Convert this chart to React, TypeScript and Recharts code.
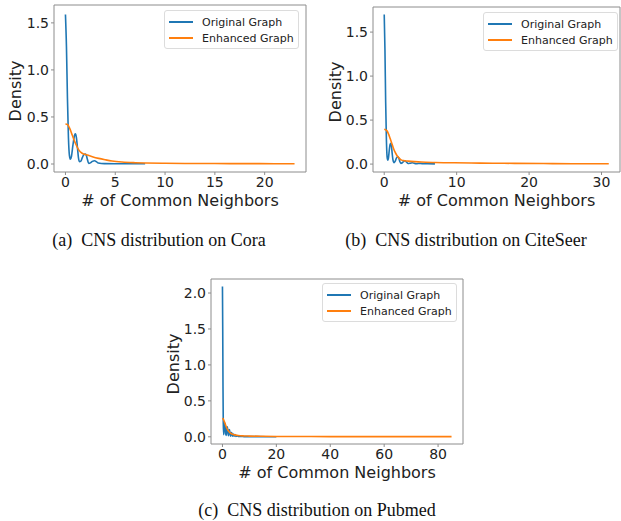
import { Line, LineChart, XAxis, YAxis } from "recharts";

// values: KDE curves of "# of common neighbors"
const coraOrigX = [0, 0.1, 0.2, 0.3, 0.4, 0.5, 0.6, 0.75, 0.9, 1.0, 1.1, 1.2, 1.3, 1.4, 1.55, 1.7, 1.85, 2.0, 2.1, 2.2, 2.33, 2.5, 2.7, 2.93, 3.1, 3.3, 3.6, 4, 5, 6, 7, 8];
const coraOrigY = [1.59, 1.25, 0.7, 0.28, 0.09, 0.05, 0.08, 0.2, 0.3, 0.32, 0.28, 0.18, 0.07, 0.025, 0.03, 0.07, 0.1, 0.106, 0.09, 0.05, 0.007, 0.012, 0.028, 0.035, 0.025, 0.01, 0.005, 0.004, 0.003, 0.003, 0.002, 0.002];
const coraEnhX = [0, 0.2, 0.33, 0.5, 0.67, 1, 1.33, 1.67, 2.17, 2.7, 3.33, 4, 4.67, 5.67, 7, 8, 10, 12, 15, 18, 21, 23];
const coraEnhY = [0.425, 0.42, 0.4, 0.36, 0.31, 0.22, 0.15, 0.114, 0.096, 0.078, 0.06, 0.045, 0.032, 0.021, 0.014, 0.011, 0.008, 0.006, 0.005, 0.004, 0.003, 0.002];

const citeOrigX = [0, 0.1, 0.2, 0.3, 0.4, 0.5, 0.6, 0.7, 0.8, 0.91, 1.0, 1.1, 1.2, 1.36, 1.5, 1.7, 1.86, 2.0, 2.15, 2.3, 2.5, 2.7, 2.86, 3.05, 3.3, 3.6, 3.9, 4.4, 5, 5.5, 6, 7];
const citeOrigY = [1.7, 1.3, 0.7, 0.28, 0.08, 0.045, 0.08, 0.16, 0.22, 0.235, 0.2, 0.12, 0.05, 0.015, 0.03, 0.07, 0.083, 0.07, 0.03, 0.008, 0.015, 0.032, 0.038, 0.025, 0.006, 0.01, 0.015, 0.004, 0.008, 0.003, 0.004, 0.002];
const citeEnhX = [0, 0.36, 0.6, 0.82, 1.05, 1.27, 1.5, 1.73, 2.05, 2.4, 2.8, 3.3, 4.2, 5.1, 7, 9.7, 12, 15, 18, 22, 26, 31];
const citeEnhY = [0.395, 0.38, 0.34, 0.29, 0.235, 0.18, 0.135, 0.1, 0.068, 0.045, 0.038, 0.034, 0.028, 0.023, 0.018, 0.015, 0.012, 0.01, 0.008, 0.006, 0.004, 0.003];

const pubOrigX = [0, 0.1, 0.2, 0.3, 0.45, 0.6, 0.8, 1.0, 1.2, 1.4, 1.6, 1.8, 2.0, 2.2, 2.4, 2.6, 2.8, 3.0, 3.2, 3.4, 3.7, 4.0, 4.3, 4.6, 5.0, 5.5, 6, 7, 8, 10, 13, 16, 20];
const pubOrigY = [2.09, 1.5, 0.7, 0.2, 0.03, 0.12, 0.19, 0.17, 0.04, 0.02, 0.1, 0.14, 0.09, 0.015, 0.06, 0.1, 0.05, 0.01, 0.05, 0.06, 0.01, 0.04, 0.008, 0.03, 0.006, 0.015, 0.004, 0.006, 0.003, 0.002, 0.002, 0.001, 0.001];
const pubEnhX = [0, 0.4, 0.9, 1.5, 2.1, 2.7, 3.35, 4.5, 5.8, 8, 10, 15, 20, 30, 40, 50, 60, 70, 80, 85];
const pubEnhY = [0.26, 0.24, 0.19, 0.13, 0.088, 0.06, 0.042, 0.027, 0.018, 0.012, 0.01, 0.007, 0.005, 0.004, 0.003, 0.003, 0.002, 0.002, 0.002, 0.002];

const seriesNames = ["Original Graph", "Enhanced Graph"];
const seriesColors = ["#1f77b4", "#ff7f0e"];
const captions = [
  "(a)\u2002CNS distribution on Cora",
  "(b)\u2002CNS distribution on CiteSeer",
  "(c)\u2002CNS distribution on Pubmed",
];
const xLabel = "# of Common Neighbors";
const yLabel = "Density";

const zip = (xs: number[], ys: number[]) => xs.map((x, i) => ({ x, y: ys[i] }));

const SANS = "'DejaVu Sans', sans-serif";
const SPINE = "#8c8c8c";

type PanelProps = {
  left: number;
  top: number;
  width: number;
  height: number;
  // plot box edges, in the panel's own pixels
  box: { top: number; right: number; bottom: number; left: number };
  xDomain: [number, number];
  yDomain: [number, number];
  xTicks: number[];
  yTicks: number[];
  orig: { x: number; y: number }[];
  enh: { x: number; y: number }[];
  legendLeft: number;
  legendTop: number;
  yLabelX: number;
};

function LegendBox({ left, top }: { left: number; top: number }) {
  return (
    <div
      style={{
        position: "absolute",
        left,
        top,
        width: 135,
        height: 39,
        boxSizing: "border-box",
        border: "1px solid #dcdcdc",
        borderRadius: 3,
        background: "rgba(255,255,255,0.85)",
        fontFamily: SANS,
        fontSize: 11,
        color: "#222",
      }}
    >
      {seriesNames.map((name, i) => (
        <div
          key={name}
          style={{ position: "absolute", left: 4, top: 4 + i * 16, height: 14, display: "flex", alignItems: "center" }}
        >
          <span style={{ display: "inline-block", width: 24, height: 1.5, background: seriesColors[i], marginRight: 9 }} />
          {name}
        </div>
      ))}
    </div>
  );
}

function Panel(p: PanelProps) {
  const plotW = p.box.right - p.box.left;
  const plotH = p.box.bottom - p.box.top;
  // axes take 1px each, so margins sit 1px outside the plot box
  const margin = {
    top: p.box.top - 1,
    right: p.width - p.box.right - 1,
    bottom: p.height - p.box.bottom - 1,
    left: p.box.left - 1,
  };
  const tick = { fill: "#222", fontSize: 14, fontFamily: SANS };
  return (
    <div style={{ position: "absolute", left: p.left, top: p.top, width: p.width, height: p.height }}>
      <LineChart width={p.width} height={p.height} margin={margin}>
        <XAxis
          dataKey="x"
          type="number"
          domain={p.xDomain}
          ticks={p.xTicks}
          allowDataOverflow
          height={1}
          tick={tick}
          tickSize={3}
          tickMargin={2}
          stroke={SPINE}
          tickLine={{ stroke: SPINE }}
        />
        <XAxis
          xAxisId="top"
          orientation="top"
          type="number"
          domain={p.xDomain}
          height={1}
          tick={false}
          tickLine={false}
          stroke={SPINE}
        />
        <YAxis
          type="number"
          domain={p.yDomain}
          ticks={p.yTicks}
          allowDataOverflow
          width={1}
          tick={tick}
          tickSize={3}
          tickMargin={2}
          tickFormatter={(v: number) => v.toFixed(1)}
          stroke={SPINE}
          tickLine={{ stroke: SPINE }}
        />
        <YAxis
          yAxisId="right"
          orientation="right"
          type="number"
          domain={p.yDomain}
          width={1}
          tick={false}
          tickLine={false}
          stroke={SPINE}
        />
        <Line
          data={p.orig}
          dataKey="y"
          name={seriesNames[0]}
          type="monotone"
          stroke={seriesColors[0]}
          strokeWidth={1.6}
          dot={false}
          isAnimationActive={false}
        />
        <Line
          data={p.enh}
          dataKey="y"
          name={seriesNames[1]}
          type="monotone"
          stroke={seriesColors[1]}
          strokeWidth={1.6}
          dot={false}
          isAnimationActive={false}
        />
      </LineChart>
      <LegendBox left={p.legendLeft} top={p.legendTop} />
      <div
        style={{
          position: "absolute",
          left: p.box.left + plotW / 2,
          top: p.box.bottom + 28,
          transform: "translate(-50%, -50%)",
          whiteSpace: "nowrap",
          fontFamily: SANS,
          fontSize: 16,
          color: "#222",
        }}
      >
        {xLabel}
      </div>
      <div
        style={{
          position: "absolute",
          left: p.yLabelX,
          top: p.box.top + plotH / 2 + 2,
          transform: "translate(-50%, -50%) rotate(-90deg)",
          whiteSpace: "nowrap",
          fontFamily: SANS,
          fontSize: 16,
          color: "#222",
        }}
      >
        {yLabel}
      </div>
    </div>
  );
}

function Caption({ text, cx, cy }: { text: string; cx: number; cy: number }) {
  return (
    <div
      style={{
        position: "absolute",
        left: cx,
        top: cy,
        transform: "translate(-50%, -50%)",
        whiteSpace: "nowrap",
        fontFamily: "'Liberation Serif', serif",
        fontSize: 18,
        color: "#111",
      }}
    >
      {text}
    </div>
  );
}

export default function App() {
  return (
    <div style={{ position: "absolute", left: 0, top: 0, width: 621, height: 521, background: "#fff", overflow: "hidden" }}>
      <Panel
        left={0}
        top={0}
        width={310}
        height={220}
        box={{ top: 5, right: 306, bottom: 172, left: 54 }}
        xDomain={[-1.15, 24.15]}
        yDomain={[-0.085, 1.69]}
        xTicks={[0, 5, 10, 15, 20]}
        yTicks={[0, 0.5, 1, 1.5]}
        orig={zip(coraOrigX, coraOrigY)}
        enh={zip(coraEnhX, coraEnhY)}
        legendLeft={164}
        legendTop={10}
        yLabelX={15}
      />
      <Panel
        left={310}
        top={0}
        width={311}
        height={220}
        box={{ top: 7, right: 310, bottom: 172, left: 63 }}
        xDomain={[-1.55, 32.55]}
        yDomain={[-0.09, 1.785]}
        xTicks={[0, 10, 20, 30]}
        yTicks={[0, 0.5, 1, 1.5]}
        orig={zip(citeOrigX, citeOrigY)}
        enh={zip(citeEnhX, citeEnhY)}
        legendLeft={173}
        legendTop={12}
        yLabelX={25}
      />
      <Panel
        left={150}
        top={270}
        width={320}
        height={220}
        box={{ top: 9, right: 313, bottom: 174, left: 61 }}
        xDomain={[-4.25, 89.25]}
        yDomain={[-0.1, 2.195]}
        xTicks={[0, 20, 40, 60, 80]}
        yTicks={[0, 0.5, 1, 1.5, 2]}
        orig={zip(pubOrigX, pubOrigY)}
        enh={zip(pubEnhX, pubEnhY)}
        legendLeft={172}
        legendTop={13}
        yLabelX={23}
      />
      <Caption text={captions[0]} cx={159} cy={240} />
      <Caption text={captions[1]} cx={466} cy={240} />
      <Caption text={captions[2]} cx={317} cy={510} />
    </div>
  );
}
